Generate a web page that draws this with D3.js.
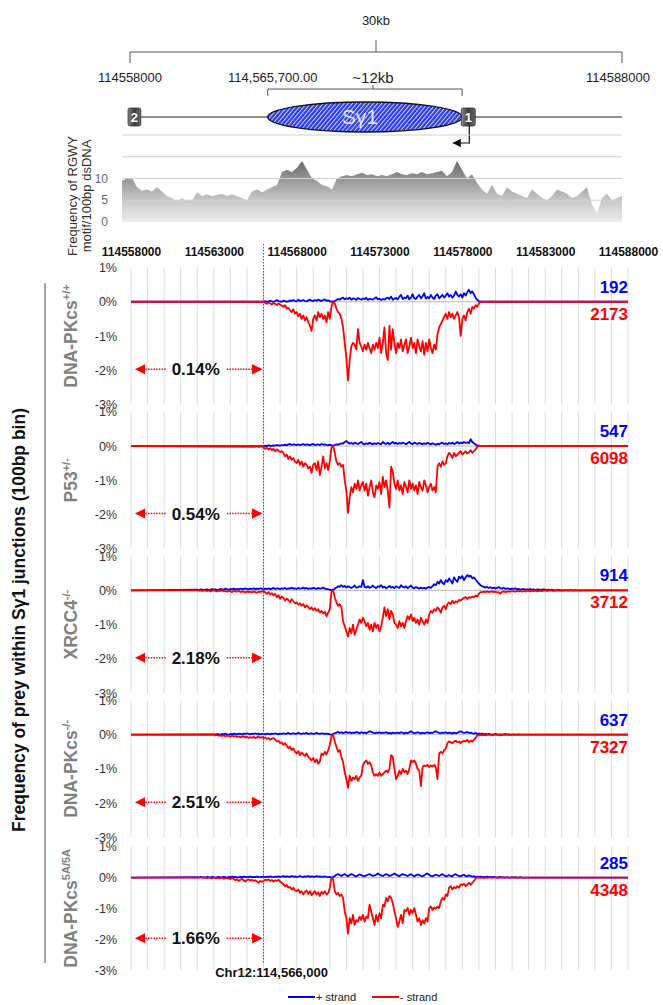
<!DOCTYPE html>
<html>
<head>
<meta charset="utf-8">
<script src="https://cdn.jsdelivr.net/npm/d3@7"></script>
<style>
  body { margin: 0; background: #fff; }
  svg { display: block; font-family: Arial, "Liberation Sans", sans-serif; }
</style>
</head>
<body>
<svg id="chart" width="663" height="1005"></svg>
<script>
// ---------- genomic window ----------
const regionStart = 114558000;
const regionEnd = 114588000;
const binSize = 100;
const axisTicks = [114558000, 114563000, 114568000, 114573000, 114578000, 114583000, 114588000];
const breakPoint = 114566000;

// ---------- RGWY motif density (per 100bp), sampled every 300bp ----------
const densityStep = 300;
const densityValues = [9.5,10,10.2,8,7.2,7.5,7,8,7,6,5.5,4.8,5.5,4.8,5,6.8,6,6.3,6,6.2,
  6.5,6,6.3,6,5.5,5,7,7.5,6.8,7.5,8,8.5,11.5,12,11.5,12.5,14,12,10,9.5,
  8.5,8.2,7.5,10,10.5,10.8,10.5,11,11.3,10.8,11,10.5,10.8,10.5,11,11.5,11,10.8,11.2,11,
  11.5,11,11.2,11.5,11.8,10.5,11.5,14,12,10,11,9,7.5,6.5,8.5,6.5,6,8,7,6.5,
  6,5.5,7.5,6.5,5.5,5,6,7.5,7,6.5,5.5,6,7,8,4,2,5.5,6.5,5,5.5,6];
const densityTicks = [0, 5, 10];
const densityGrid = [5, 10, 15, 20];

// ---------- gene schematic features (bp) ----------
const exon2Span = [114557880, 114558660];
const exon1Span = [114578200, 114579050];
const switchSpan = [114566400, 114578250];

// ---------- cell lines ----------
const strainNames = ["DNA-PKcs", "P53", "XRCC4", "DNA-PKcs", "DNA-PKcs"];
const strainGenotypes = ["+/+", "+/-", "-/-", "-/-", "5A/5A"];
const plusCounts = [192, 547, 914, 637, 285];
const minusCounts = [2173, 6098, 3712, 7327, 4348];
const upstreamShare = ["0.14%", "0.54%", "2.18%", "2.51%", "1.66%"];
const yTicks = [1, 0, -1, -2, -3];

// junction frequency (%) per 100bp bin; first bin at the given start
const plusStarts = [114566000, 114566000, 114562000, 114563000, 114562000];
const minusStarts = [114566000, 114565500, 114562000, 114563000, 114562500];

const dnaPkWtPlus = [0,0.02,0,0.01,0.03,0.01,0,0.02,0.05,0.02,0.01,0,0.03,0.02,0,0.01,0.04,0.02,0.05,0.02,
  0.01,0.06,0.02,0.03,0.05,0.02,0.01,0.04,0.06,0.03,0.02,0.05,0.03,0.06,0.04,0.02,0.05,0.07,0.03,0.04,0.02,
  0,0.01,0.02,0.05,0.08,0.06,0.1,0.12,0.07,0.1,
  0.08,0.12,0.06,0.1,0.09,0.05,0.11,0.08,0.06,0.1,0.07,0.12,0.05,0.09,0.08,0.06,0.1,0.13,0.07,0.09,
  0.05,0.08,0.06,0.1,0.12,0.08,0.15,0.06,0.09,0.11,
  0.07,0.15,0.2,0.08,0.12,0.1,0.18,0.07,0.12,0.22,0.1,0.08,0.15,0.2,0.1,0.16,0.25,0.09,0.14,0.1,
  0.2,0.12,0.08,0.18,0.22,0.1,0.15,0.2,0.12,0.18,
  0.25,0.15,0.2,0.12,0.18,0.3,0.2,0.15,0.22,0.12,0.25,0.18,0.28,0.35,0.25,0.3,0.22,0.12,0.05,0.02,0];
const dnaPkWtMinus = [0,-0.03,-0.06,-0.02,-0.05,-0.08,-0.04,-0.06,-0.1,-0.05,-0.08,-0.12,
  -0.15,-0.1,-0.2,-0.18,-0.25,-0.3,-0.22,-0.35,
  -0.3,-0.42,-0.35,-0.5,-0.4,-0.55,-0.45,-0.6,-0.7,-0.85,
  -0.5,-0.4,-0.55,-0.3,-0.45,-0.35,-0.5,-0.4,-0.6,-0.3,-0.5,
  -0.15,0,-0.05,
  -0.2,-0.3,-0.35,-0.5,
  -0.75,-1.2,-1.65,-2.3,-1.7,
  -1.3,-1.2,-1.25,-1.4,-0.8,
  -1.2,-1.3,-1.45,-1.25,-1.4,-1.2,-1.35,-1.5,-1.25,-1.4,-1.2,
  -1.35,-1.05,-1.5,-1.2,-0.75,-1.5,-1.7,-0.7,-1.4,-0.8,-1.2,-1.5,
  -1.2,-1.35,-1.1,-1.45,-1.25,-1.1,-1.5,-1.3,-1.05,-1.35,-1.2,-1.5,-1.1,-1.3,-1.45,-1.15,-1.55,-1.2,-1.45,-1.1,-1.35,-1.5,-1.25,-1.4,
  -0.95,-0.75,-0.65,-0.55,-0.45,-0.35,-0.5,-0.3,
  -0.45,-0.35,-0.5,-0.4,-0.3,-0.45,-1.0,
  -0.5,-0.4,-0.55,-0.3,-0.2,-0.35,-0.15,-0.2,-0.1,-0.15,-0.05,0];

const p53Plus = [0,0.01,0,0.02,0.01,0,0.02,0.01,0.03,0.02,0.01,0.03,0.02,0.04,0.02,0.05,0.06,0.03,0.05,0.04,0.03,
  0.05,0.03,0.04,0.06,0.03,0.05,0.04,0.02,0.05,0.06,0.03,0.04,0.05,0.03,0.06,0.04,0.05,0.03,0.02,0.04,
  0.02,0.01,0.03,0.05,0.04,0.06,0.08,0.07,0.12,0.15,
  0.1,0.07,0.09,0.06,0.1,0.08,0.06,0.09,0.12,0.07,0.05,0.08,0.06,0.1,0.07,0.05,0.08,0.06,0.09,0.07,
  0.05,0.12,0.08,0.06,0.1,0.05,0.09,0.12,0.07,0.1,
  0.06,0.09,0.07,0.1,0.08,0.05,0.09,0.12,0.07,0.06,0.1,0.08,0.06,0.09,0.07,0.05,0.08,0.06,0.1,0.07,
  0.05,0.08,0.06,0.04,0.07,0.05,0.08,0.1,0.06,0.08,
  0.05,0.09,0.07,0.1,0.06,0.08,0.12,0.07,0.1,0.08,0.12,0.09,0.11,0.08,0.2,0.12,0.08,0.04,0.02,0.01,0];
const p53Minus = [-0.02,0,-0.03,-0.01,-0.02,
  -0.03,-0.08,-0.05,-0.1,-0.06,-0.12,-0.08,-0.15,-0.1,-0.13,-0.18,-0.15,
  -0.2,-0.3,-0.25,-0.38,-0.3,-0.4,-0.35,-0.45,
  -0.5,-0.4,-0.55,-0.45,-0.6,-0.5,-0.55,-0.65,-0.6,-0.78,
  -0.55,-0.5,-0.7,-0.45,-0.85,-0.6,-0.3,-0.65,-0.5,-0.7,-0.45,
  -0.05,0,
  -0.2,-0.45,-0.55,-0.5,-0.6,-0.55,
  -1.0,-1.3,-1.95,-1.5,
  -1.2,-1.35,-1.1,-1.25,-1.0,-1.3,-1.15,-1.05,
  -1.3,-1.1,-1.45,-1.2,-1.0,-1.35,-1.5,-1.15,-1.25,-1.05,-1.4,
  -0.9,-1.2,-1.0,-1.3,-1.8,-0.6,-0.75,
  -1.1,-1.25,-1.0,-1.3,-1.15,-1.4,-1.05,-1.2,-1.35,-1.0,-1.25,-1.1,-1.3,-1.15,-1.4,-1.05,-1.2,-1.3,-1.0,-1.15,-1.35,-1.2,-1.1,-1.3,
  -1.2,-1.35,
  -0.6,-0.5,-0.6,-0.45,-0.55,-0.5,
  -0.3,-0.2,-0.25,-0.35,-0.2,-0.3,-0.25,-0.2,
  -0.15,-0.25,-0.2,-0.15,-0.22,-0.18,-0.12,-0.2,-0.15,-0.1,
  -0.02,0];

const xrcc4Plus = [0.02,0.01,0.03,0.02,0.01,0.02,0.03,0.01,0.02,0.04,0.02,0.03,0.01,0.02,0.04,0.03,0.02,0.05,0.03,0.02,
  0.04,0.03,0.05,0.02,0.04,0.03,0.05,0.04,0.03,0.06,0.04,0.03,0.05,0.04,0.06,0.03,0.05,0.04,0.06,0.05,
  0.03,0.05,0.04,0.06,0.03,0.05,0.07,0.04,0.06,0.05,0.04,0.06,0.05,0.07,0.04,0.06,0.05,0.08,0.05,0.06,
  0.04,0.07,0.05,0.06,0.08,0.05,0.07,0.04,0.06,0.05,0.07,0.06,0.04,0.07,0.05,0.06,0.08,0.05,0.04,0.03,0.02,
  0,0.02,0.05,0.08,0.12,0.1,0.15,0.1,0.13,0.08,0.12,0.1,0.07,0.1,0.14,0.08,0.09,0.12,0.1,0.3,
  0.1,0.08,0.12,0.07,0.1,0.14,0.09,0.06,0.12,0.1,0.15,0.08,0.11,0.06,0.09,0.13,0.08,0.1,0.06,0.12,
  0.09,0.07,0.15,0.1,0.08,0.12,0.06,0.1,0.14,0.08,0.06,0.1,0.07,0.05,0.08,0.06,0.07,0.05,0.08,0.1,
  0.07,0.12,0.18,0.15,
  0.25,0.2,0.3,0.22,0.18,0.3,0.25,0.35,0.28,0.2,0.38,0.3,0.25,0.4,0.35,0.42,0.3,0.38,0.45,0.4,
  0.43,0.35,0.38,0.32,0.25,0.2,
  0.15,0.12,0.1,0.08,0.1,0.07,0.09,0.06,0.08,0.05,0.07,0.1,0.06,0.05,0.08,0.04,0.06,0.05,0.03,0.05,
  0.04,0.06,0.03,0.04,0.02,
  0.03,0.04,0.02,0.03,0.02,0.04,0.02,0.03,0.01,0.02,0.03,0.01,0.02,0.03,0.02,0.01,0.02,0.01,0.02,0.01,
  0,0.01,0.02,0,0.01,0,0.01,0,0,0.01,0,0,0.01,0,0];
const xrcc4Minus = [0,-0.01,0,-0.02,0,-0.01,-0.02,0,-0.03,-0.01,0,-0.02,-0.03,-0.01,-0.02,0,-0.03,-0.02,-0.04,-0.01,
  -0.03,-0.05,-0.02,-0.03,-0.04,-0.02,-0.05,-0.03,-0.04,-0.06,-0.03,-0.05,-0.04,-0.06,-0.03,-0.05,-0.07,-0.04,-0.05,-0.03,
  -0.02,-0.06,-0.1,-0.05,-0.12,-0.08,
  -0.15,-0.1,-0.2,-0.14,-0.25,-0.18,-0.22,-0.3,-0.24,-0.28,-0.35,-0.26,-0.32,-0.38,
  -0.35,-0.42,-0.38,-0.45,-0.4,-0.5,-0.44,-0.48,-0.55,-0.5,-0.58,-0.52,-0.6,-0.55,-0.65,-0.6,-0.68,-0.62,
  -0.75,-0.65,-0.55,
  -0.05,0,
  -0.2,-0.35,-0.45,-0.4,-0.5,
  -0.9,-1.05,-1.2,-1.35,-1.1,
  -1.25,-1.0,-1.3,-1.15,
  -1.0,-0.85,-0.95,-0.8,
  -0.9,-1.05,-0.95,-1.15,-1.0,-1.2,-0.95,-1.1,-1.0,-1.2,-1.05,
  -0.8,-0.5,-0.75,-0.55,-0.85,-0.6,-0.7,-0.95,
  -1.0,-1.1,-0.9,-1.05,-0.95,-1.1,-0.9,
  -0.75,-0.85,-0.7,-0.9,-0.8,
  -0.95,-0.85,-1.0,-0.8,-0.9,-1.0,-0.85,-0.95,
  -0.7,-0.6,-0.65,-0.55,-0.6,-0.5,-0.55,-0.65,-0.5,-0.45,-0.55,-0.4,
  -0.35,-0.4,-0.3,-0.38,-0.32,-0.35,-0.28,-0.3,
  -0.25,-0.22,-0.2,-0.25,-0.2,-0.22,-0.18,-0.2,-0.15,-0.18,-0.1,-0.05,
  -0.05,-0.04,-0.05,-0.03,-0.05,-0.04,-0.03,-0.05,-0.04,-0.06,-0.05,-0.1,-0.04,-0.03,-0.05,-0.04,-0.03,-0.04,-0.02,-0.03,
  -0.04,-0.02,-0.03,-0.02,-0.04,-0.02,-0.03,-0.01,-0.02,-0.03,-0.01,-0.02,-0.01,-0.03,-0.02,-0.01,-0.02,-0.01,0,-0.02,
  -0.01,0,-0.01,-0.02,0,-0.01,0,-0.01,0,-0.01,0,0,-0.01,0,0,-0.01,0,0,0,-0.01,0,0,0,0,0,0,0,0,0];

const dnaPkNullPlus = [0.01,0,0.02,0.01,0,0.02,0.01,0.03,0.01,0,0.02,0.01,0.03,0.02,0.01,0.03,0.02,0.01,0.03,0.02,
  0.04,0.02,0.01,0.03,0.02,0.04,0.02,0.03,0.01,0.02,
  0.02,0.01,0.03,0.02,0.01,0.03,0.02,0.04,0.02,0.01,0.03,0.02,0.04,0.02,0.03,0.05,0.02,0.03,0.04,0.02,
  0.03,0.05,0.03,0.02,0.04,0.03,0.05,0.02,0.03,0.04,0.02,0.03,0.05,0.03,0.02,0.04,0.03,0.02,0.03,0.02,0.01,
  0,0.02,0.04,0.06,0.08,0.05,0.07,0.04,0.06,0.08,0.05,0.07,0.04,0.06,0.05,0.08,0.06,0.04,0.07,0.05,
  0.06,0.04,0.07,0.1,0.08,0.06,0.04,0.06,0.05,0.07,0.04,0.06,0.05,0.07,0.04,0.05,0.03,0.06,0.04,0.05,
  0.06,0.04,0.07,0.05,0.03,0.06,0.04,0.07,0.1,0.06,0.04,0.05,0.07,0.05,0.03,0.06,0.04,0.05,0.07,0.04,
  0.06,0.05,0.08,0.1,0.07,0.05,0.04,0.06,0.05,0.07,0.04,0.06,0.05,0.03,0.06,0.04,0.05,0.08,0.1,0.07,
  0.05,0.06,0.08,0.05,0.06,0.04,0.03,0.05,0.02,0.03,
  0.02,0.03,0.01,0.02,0.01,0.02,0.01,0,0.01,0.02,0.01,0,0.01,0,0.01,0.02,0,0.01,0,0,0.01,0,0,0.01,0,0,0,0,0,0];
const dnaPkNullMinus = [0,-0.02,-0.01,-0.03,-0.02,-0.04,-0.02,-0.05,-0.03,-0.04,-0.06,-0.03,-0.05,-0.04,-0.07,
  -0.05,-0.08,-0.06,-0.05,-0.08,-0.06,-0.1,-0.07,-0.09,-0.06,-0.1,-0.08,-0.05,-0.09,-0.07,
  -0.1,-0.08,-0.12,-0.1,-0.15,-0.12,-0.1,-0.14,-0.2,-0.18,-0.25,-0.22,
  -0.3,-0.25,-0.32,-0.4,-0.35,-0.45,-0.4,-0.5,
  -0.55,-0.48,-0.6,-0.52,-0.58,-0.62,-0.55,-0.65,
  -0.7,-0.75,-0.68,-0.8,-0.72,-0.85,-0.78,
  -0.55,-0.6,-0.5,-0.58,-0.45,-0.3,
  -0.05,0,
  -0.2,-0.35,-0.5,-0.45,
  -0.65,-0.8,-1.1,-1.3,
  -1.55,
  -1.2,-1.35,-1.25,-1.3,-1.2,-1.35,-1.25,-1.2,
  -0.9,-0.8,-0.75,-0.85,-0.8,-0.9,
  -1.1,-1.2,-1.15,-1.2,-1.1,-1.2,-1.15,-1.1,-1.05,
  -1.1,-1.0,-0.6,-0.65,-1.0,-1.3,-1.2,-1.05,-1.15,-1.0,
  -1.1,-1.05,-1.15,-1.0,
  -0.75,-0.8,-0.75,-0.85,
  -1.0,-1.05,-1.5,
  -0.95,-0.9,-0.92,-0.88,-0.95,-0.9,-0.93,-0.88,-0.95,
  -1.3,
  -0.55,-0.5,-0.55,-0.45,-0.4,
  -0.25,-0.2,-0.22,-0.25,-0.2,-0.18,-0.22,-0.2,-0.25,-0.2,
  -0.18,-0.2,-0.15,-0.22,-0.18,-0.2,-0.15,-0.1,
  -0.02,
  -0.02,-0.01,-0.02,-0.01,-0.02,-0.01,0,-0.01,-0.02,-0.01,0,-0.01,0,-0.02,-0.01,0,-0.01,0,0,-0.01,0,0,-0.01,0,0,0,0,0,0,0,0];

const dnaPk5aPlus = [0.01,0,0.02,0,0.01,0,0.02,0.01,0,0.02,0.01,0,0.01,0.02,0,0.01,0.02,0.01,0,0.02,
  0.01,0.03,0.01,0.02,0,0.01,0.02,0.01,0.03,0.02,0.01,0.02,0.03,0.01,0.02,0.01,0.03,0.02,0.01,0.02,
  0.02,0.01,0.03,0.02,0.04,0.02,0.01,0.03,0.02,0.04,0.02,0.03,0.05,0.02,0.04,0.03,0.02,0.05,0.03,0.04,
  0.02,0.03,0.05,0.03,0.02,0.04,0.03,0.05,0.02,0.04,0.03,0.02,0.05,0.03,0.04,0.02,0.03,0.04,0.02,0.01,0.02,
  0,0.02,0.05,0.09,0.11,0.08,0.05,0.09,0.11,0.07,0.04,0.08,0.11,0.09,0.05,0.04,0.07,0.1,0.08,0.05,
  0.04,0.07,0.09,0.11,0.08,0.05,0.07,0.09,0.13,0.1,0.07,0.05,0.08,0.11,0.09,0.05,0.07,0.1,0.13,0.09,
  0.07,0.04,0.08,0.11,0.09,0.07,0.05,0.08,0.11,0.07,
  0.04,0.07,0.1,0.08,0.05,0.04,0.07,0.11,0.13,0.09,0.05,0.04,0.07,0.09,0.07,0.05,0.08,0.11,0.07,0.04,
  0.05,0.08,0.05,0.04,0.09,0.11,0.07,0.05,0.04,0.07,0.09,0.05,0.04,0.07,0.05,0.03,0.04,0.02,0.03,0.02,
  0.03,0.02,0.01,0.02,0.03,0.01,0.02,0.01,0.02,0.01,0,0.01,0.02,0,0.01,0,0.01,0,0,0.01,0,0.01,0,0,0.01,0,0,0,0,0];
const dnaPk5aMinus = [0,-0.02,0,-0.01,-0.03,0,-0.02,-0.01,-0.03,-0.02,0,-0.04,-0.02,-0.01,-0.03,-0.05,-0.02,-0.04,
  -0.09,-0.06,-0.11,-0.07,-0.04,-0.09,-0.13,-0.08,-0.06,-0.1,-0.07,-0.11,-0.09,-0.13,-0.17,-0.11,-0.14,
  -0.11,-0.07,-0.09,-0.06,-0.11,-0.08,-0.13,-0.09,-0.11,-0.07,-0.13,-0.17,
  -0.22,-0.28,-0.24,-0.33,-0.31,-0.39,-0.33,-0.42,
  -0.44,-0.39,-0.5,-0.44,-0.55,-0.46,-0.42,-0.53,-0.44,-0.57,-0.5,-0.44,-0.55,-0.48,-0.6,-0.46,-0.53,-0.44,-0.55,-0.5,
  -0.33,0,-0.06,
  -0.44,-0.55,-0.5,-0.6,-0.55,-0.66,
  -1.1,-1.32,
  -1.82,
  -1.32,-1.49,-1.21,-1.54,-1.38,-1.43,
  -1.27,-1.38,-1.21,-1.43,-1.27,-1.32,
  -0.88,
  -1.1,-1.32,-1.54,-1.21,-1.43,-1.16,-1.32,
  -0.88,-0.94,
  -0.66,-0.77,-0.6,-0.66,-0.83,
  -1.1,-1.32,-1.6,-1.43,-1.21,-1.49,
  -1.05,-1.1,-0.99,-1.21,-1.05,-1.16,-0.99,
  -1.21,-1.43,-1.32,-1.54,-1.38,-1.49,-1.32,-1.43,
  -0.99,-0.94,-1.05,-0.97,-1.01,-0.94,-0.99,
  -0.77,-0.66,-0.72,-0.55,-0.6,
  -0.33,-0.28,-0.39,-0.31,-0.35,-0.28,-0.33,
  -0.22,-0.24,-0.2,-0.28,-0.22,-0.17,-0.24,-0.17,
  -0.11,-0.03,0,0,
  -0.01,0,-0.02,0,-0.01,0,0,-0.01,0,0,0,-0.01,0,0,0,0,0,0,0,0];

const plusSeries = [dnaPkWtPlus, p53Plus, xrcc4Plus, dnaPkNullPlus, dnaPk5aPlus];
const minusSeries = [dnaPkWtMinus, p53Minus, xrcc4Minus, dnaPkNullMinus, dnaPk5aMinus];

const legendLabels = ["+ strand", "- strand"];
const plusColor = "#0000ff";
const minusColor = "#ff0000";

// ---------- layout ----------
const svg = d3.select("#chart");
const x = d3.scaleLinear().domain([regionStart, regionEnd]).range([131, 628]);
const densityX = d3.scaleLinear().domain([regionStart, regionEnd]).range([122, 622]);
const diagramX = d3.scaleLinear().domain([regionStart, regionEnd]).range([130, 622]);
const densityY = d3.scaleLinear().domain([0, 20]).range([222, 135]);
// plot area (top, height) of each panel; the last one is shorter
const panelTops = [267.5, 411.8, 556.1, 700.4, 846.7];
const panelHeights = [137, 137, 137, 137, 123.3];

const defs = svg.append("defs");
const hatch = defs.append("pattern").attr("id", "hatch").attr("patternUnits", "userSpaceOnUse")
  .attr("width", 3.2).attr("height", 3.2).attr("patternTransform", "rotate(40)");
hatch.append("rect").attr("width", 3.2).attr("height", 3.2).attr("fill", "#2b3cf6");
hatch.append("line").attr("x1", 0.5).attr("y1", 0).attr("x2", 0.5).attr("y2", 3.2)
  .attr("stroke", "#ffffff").attr("stroke-width", 0.9).attr("stroke-opacity", 0.85);

const dg = defs.append("linearGradient").attr("id", "densFill").attr("gradientUnits", "userSpaceOnUse")
  .attr("x1", 0).attr("y1", 158).attr("x2", 0).attr("y2", 222);
[[0, "#5e5e5e"], [0.35, "#9a9a9a"], [0.7, "#cdcdcd"], [1, "#ededed"]]
  .forEach(([o, c]) => dg.append("stop").attr("offset", o).attr("stop-color", c));

const eg = defs.append("linearGradient").attr("id", "exonFill").attr("x1", 0).attr("y1", 0).attr("x2", 1).attr("y2", 0);
[[0, "#8a8a8a"], [0.5, "#3a3a3a"], [1, "#6a6a6a"]]
  .forEach(([o, c]) => eg.append("stop").attr("offset", o).attr("stop-color", c));

function arrowMarker(id, color) {
  defs.append("marker").attr("id", id).attr("viewBox", "0 0 10 10").attr("refX", 9).attr("refY", 5)
    .attr("markerWidth", 7).attr("markerHeight", 7).attr("orient", "auto")
    .append("path").attr("d", "M0,0 L10,5 L0,10 z").attr("fill", color);
}
arrowMarker("redArrow", minusColor);
arrowMarker("blackArrow", "#111");

// ---------- gene schematic ----------
const diagram = svg.append("g").attr("fill", "#222");
const mid = diagramX((regionStart + regionEnd) / 2);
diagram.append("text").attr("x", mid).attr("y", 25)
  .attr("text-anchor", "middle").attr("font-size", 13).text("30kb");
const bracket = d3.path();
bracket.moveTo(diagramX(regionStart), 63); bracket.lineTo(diagramX(regionStart), 52);
bracket.lineTo(diagramX(regionEnd), 52); bracket.lineTo(diagramX(regionEnd), 63);
bracket.moveTo(mid, 52); bracket.lineTo(mid, 40);
diagram.append("path").attr("d", bracket.toString()).attr("fill", "none").attr("stroke", "#555").attr("stroke-width", 1);

diagram.append("text").attr("x", diagramX(regionStart)).attr("y", 82).attr("text-anchor", "middle")
  .attr("font-size", 13).text(d3.format("d")(regionStart));
diagram.append("text").attr("x", diagramX(regionEnd) - 4).attr("y", 82).attr("text-anchor", "middle")
  .attr("font-size", 13).text(d3.format("d")(regionEnd));
diagram.append("text").attr("x", diagramX(switchSpan[0]) + 5).attr("y", 82).attr("text-anchor", "middle")
  .attr("font-size", 13).text("114,565,700.00");
const sMid = (diagramX(switchSpan[0]) + diagramX(switchSpan[1])) / 2;
diagram.append("text").attr("x", sMid + 8).attr("y", 83).attr("text-anchor", "middle")
  .attr("font-size", 15).text("~12kb");
const sb = d3.path();
sb.moveTo(diagramX(switchSpan[0]), 96); sb.lineTo(diagramX(switchSpan[0]), 89);
sb.lineTo(diagramX(switchSpan[1]), 89); sb.lineTo(diagramX(switchSpan[1]), 96);
sb.moveTo(sMid + 8, 89); sb.lineTo(sMid + 8, 85);
diagram.append("path").attr("d", sb.toString()).attr("fill", "none").attr("stroke", "#555").attr("stroke-width", 1);

// backbone
diagram.append("line").attr("x1", diagramX(exon2Span[1])).attr("x2", diagramX(regionEnd))
  .attr("y1", 117).attr("y2", 117).attr("stroke", "#6b6b6b").attr("stroke-width", 1.5);
// switch region
diagram.append("ellipse").attr("cx", sMid).attr("cy", 117)
  .attr("rx", (diagramX(switchSpan[1]) - diagramX(switchSpan[0])) / 2).attr("ry", 15)
  .attr("fill", "url(#hatch)").attr("stroke", "#111").attr("stroke-width", 1.4);
diagram.append("text").attr("x", sMid - 5).attr("y", 124).attr("text-anchor", "middle")
  .attr("font-size", 21).attr("fill", "#ffffff").attr("fill-opacity", 0.85).text("Sγ1");
// exons
[[exon2Span, "2"], [exon1Span, "1"]].forEach(([span, lab]) => {
  diagram.append("rect").attr("x", diagramX(span[0])).attr("y", 108)
    .attr("width", diagramX(span[1]) - diagramX(span[0])).attr("height", 18).attr("rx", 2)
    .attr("fill", "url(#exonFill)").attr("stroke", "#333").attr("stroke-width", 0.8);
  diagram.append("text").attr("x", (diagramX(span[0]) + diagramX(span[1])) / 2).attr("y", 122)
    .attr("text-anchor", "middle").attr("font-size", 13).attr("font-weight", "bold")
    .attr("fill", "#fff").text(lab);
});
// transcription start arrow
const tssX = diagramX(exon1Span[0]) + 8;
diagram.append("path").attr("d", `M${tssX},126 L${tssX},143 L${tssX - 16},143`)
  .attr("fill", "none").attr("stroke", "#111").attr("stroke-width", 1.2)
  .attr("marker-end", "url(#blackArrow)");

// ---------- motif density ----------
const dens = svg.append("g");
const densPts = densityValues.map((v, i) => ({ bp: regionStart + i * densityStep, v }));
dens.append("path").datum(densPts)
  .attr("d", d3.area().x(d => densityX(d.bp)).y0(densityY(0)).y1(d => densityY(d.v)))
  .attr("fill", "url(#densFill)");
dens.selectAll("line.dgrid").data(densityGrid).join("line")
  .attr("x1", densityX(regionStart)).attr("x2", densityX(regionEnd))
  .attr("y1", d => densityY(d)).attr("y2", d => densityY(d))
  .attr("stroke", "#d0d0d0").attr("stroke-width", 1);
dens.selectAll("text.dtick").data(densityTicks).join("text")
  .attr("x", 108).attr("y", d => densityY(d) + 4).attr("text-anchor", "end")
  .attr("font-size", 12).attr("fill", "#666").text(d => d);
const dTitle = dens.append("text").attr("transform", "translate(77,196) rotate(-90)")
  .attr("text-anchor", "middle").attr("font-size", 13).attr("fill", "#333");
dTitle.append("tspan").attr("x", 0).attr("dy", 0).text("Frequency of RGWY");
dTitle.append("tspan").attr("x", 0).attr("dy", 14).text("motif/100bp dsDNA");

// shared coordinate labels
const xAxis = svg.append("g").attr("transform", "translate(0,245)")
  .call(d3.axisBottom(x).tickValues(axisTicks).tickSize(0).tickPadding(2).tickFormat(d3.format("d")));
xAxis.select(".domain").remove();
xAxis.selectAll("text").attr("font-size", 12).attr("font-weight", "bold").attr("fill", "#111")
  .attr("font-family", "Arial, 'Liberation Sans', sans-serif");

// ---------- junction panels ----------
const lineGen = d3.line().x(d => x(d.bp));
function seriesPoints(start, values) {
  const pts = [{ bp: regionStart, v: 0 }];
  values.forEach((v, i) => pts.push({ bp: start + i * binSize, v }));
  pts.push({ bp: regionEnd, v: 0 });
  return pts;
}
const gridBp = d3.range(regionStart, regionEnd + 1, 1000);

strainNames.forEach((name, i) => {
  const t = panelTops[i];
  const y = d3.scaleLinear().domain([-3, 1]).range([t + panelHeights[i], t]);
  const g = svg.append("g");

  g.selectAll("line.vgrid").data(gridBp).join("line")
    .attr("x1", d => x(d)).attr("x2", d => x(d)).attr("y1", y(1)).attr("y2", y(-3))
    .attr("stroke", "#dcdcdc").attr("stroke-width", 1);

  const ya = g.append("g").attr("transform", `translate(${x(regionStart) - 14},0)`)
    .call(d3.axisLeft(y).tickValues(yTicks).tickSize(0).tickPadding(0).tickFormat(d => d + "%"));
  ya.select(".domain").remove();
  ya.selectAll("text").attr("font-size", 12.5).attr("fill", "#333")
    .attr("font-family", "Arial, 'Liberation Sans', sans-serif");

  g.append("line").attr("x1", x(regionStart)).attr("x2", x(regionEnd)).attr("y1", y(0)).attr("y2", y(0))
    .attr("stroke", "#bbb");

  g.append("path").datum(seriesPoints(plusStarts[i], plusSeries[i]))
    .attr("d", lineGen.y(d => y(d.v))).attr("fill", "none")
    .attr("stroke", plusColor).attr("stroke-width", 1.8).attr("stroke-linejoin", "round");
  g.append("path").datum(seriesPoints(minusStarts[i], minusSeries[i]))
    .attr("d", lineGen.y(d => y(d.v))).attr("fill", "none")
    .attr("stroke", minusColor).attr("stroke-width", 1.8).attr("stroke-linejoin", "round");

  g.append("text").attr("x", x(regionEnd)).attr("y", y(0) - 9).attr("text-anchor", "end")
    .attr("font-size", 17).attr("font-weight", "bold").attr("fill", plusColor).text(plusCounts[i]);
  g.append("text").attr("x", x(regionEnd)).attr("y", y(0) + 18).attr("text-anchor", "end")
    .attr("font-size", 17).attr("font-weight", "bold").attr("fill", minusColor).text(minusCounts[i]);

  // share of junctions upstream of the switch region
  const ay = y(-2) - 1;
  const left0 = x(regionStart) + 5, right0 = x(breakPoint) - 2;
  const midA = (left0 + right0) / 2 - 4;
  g.append("line").attr("x1", midA - 29).attr("x2", left0).attr("y1", ay).attr("y2", ay)
    .attr("stroke", minusColor).attr("stroke-width", 1.5).attr("stroke-dasharray", "1.5,1.2")
    .attr("marker-end", "url(#redArrow)");
  g.append("line").attr("x1", midA + 32).attr("x2", right0).attr("y1", ay).attr("y2", ay)
    .attr("stroke", minusColor).attr("stroke-width", 1.5).attr("stroke-dasharray", "1.5,1.2")
    .attr("marker-end", "url(#redArrow)");
  g.append("text").attr("x", midA + 1).attr("y", ay + 6).attr("text-anchor", "middle")
    .attr("font-size", 17).attr("font-weight", "bold").attr("fill", "#111").text(upstreamShare[i]);

  const lab = g.append("text").attr("transform", `translate(77,${y(-1)}) rotate(-90)`)
    .attr("text-anchor", "middle").attr("font-size", 17.5).attr("font-weight", "bold").attr("fill", "#808080");
  lab.append("tspan").text(name);
  lab.append("tspan").attr("font-size", 11).attr("dy", -7).text(strainGenotypes[i]);
});

// break point marker
svg.append("line").attr("x1", x(breakPoint)).attr("x2", x(breakPoint)).attr("y1", 244).attr("y2", 963)
  .attr("stroke", "#555").attr("stroke-width", 1).attr("stroke-dasharray", "1.5,1.5");
svg.append("text").attr("x", x(breakPoint) + 8).attr("y", 977).attr("text-anchor", "middle")
  .attr("font-size", 13).attr("font-weight", "bold").attr("fill", "#111").text("Chr12:114,566,000");

// overall axis title and bracket
svg.append("line").attr("x1", 45).attr("x2", 45).attr("y1", 283).attr("y2", 963)
  .attr("stroke", "#888").attr("stroke-width", 1.5);
svg.append("text").attr("transform", "translate(25,620) rotate(-90)").attr("text-anchor", "middle")
  .attr("font-size", 17.5).attr("font-weight", "bold").attr("fill", "#111")
  .text("Frequency of prey within Sγ1 junctions (100bp bin)");

// legend
const leg = svg.append("g").attr("transform", "translate(288,997)");
[[plusColor, legendLabels[0], 0], [minusColor, legendLabels[1], 84]].forEach(([c, t, dx]) => {
  leg.append("line").attr("x1", dx).attr("x2", dx + 27).attr("y1", 0).attr("y2", 0)
    .attr("stroke", c).attr("stroke-width", 2);
  leg.append("text").attr("x", dx + 28).attr("y", 4).attr("font-size", 11).attr("fill", "#222").text(t);
});
</script>
</body>
</html>
